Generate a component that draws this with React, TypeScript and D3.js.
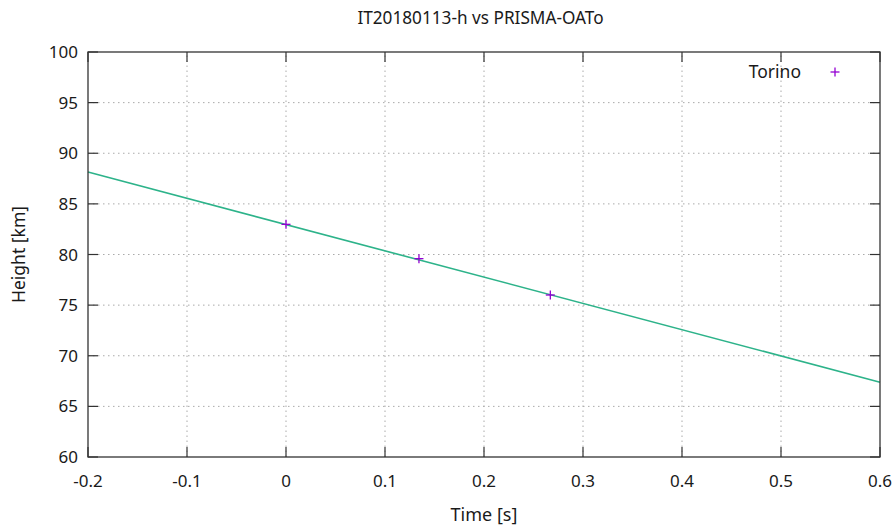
import React from "react";
import * as d3 from "d3";

// Observed meteor heights from the Torino station
const times = [0, 0.1343, 0.267];
const heights = [82.98, 79.59, 76.0];

// Linear fit across the full time range
const fitTimes = [-0.2, 0.6];
const fitHeights = [88.15, 67.38];

const xTicks = [-0.2, -0.1, 0, 0.1, 0.2, 0.3, 0.4, 0.5, 0.6];
const yTicks = [60, 65, 70, 75, 80, 85, 90, 95, 100];

const W = 896;
const H = 527;
const M = { left: 88, right: 16, top: 52, bottom: 70 };
const FONT = "'Noto Sans', 'DejaVu Sans', sans-serif";
const TEXT = "#1a1a1a";

export default function App() {
  const x = d3.scaleLinear().domain([-0.2, 0.6]).range([M.left, W - M.right]);
  const y = d3.scaleLinear().domain([60, 100]).range([H - M.bottom, M.top]);
  const [x0, x1] = x.range();
  const [y0, y1] = y.range();
  const tick = 10;
  const line = d3
    .line<number>()
    .x((_, i) => x(fitTimes[i]))
    .y((d) => y(d));
  const fmtX = (v: number) => (v === 0 ? "0" : v.toFixed(1));

  return (
    <svg
      width={W}
      height={H}
      style={{ position: "absolute", left: 0, top: 0, background: "#fff" }}
      fontFamily={FONT}
    >
      {/* grid */}
      <g stroke="#aaa" strokeWidth={1} strokeDasharray="1.5,3.5">
        {xTicks.slice(1, -1).map((t) => (
          <line key={"gx" + t} x1={x(t)} x2={x(t)} y1={y0} y2={y1} />
        ))}
        {yTicks.slice(1, -1).map((t) => (
          <line key={"gy" + t} x1={x0} x2={x1} y1={y(t)} y2={y(t)} />
        ))}
      </g>
      {/* ticks on all sides */}
      <g stroke="#333" strokeWidth={1.2}>
        {xTicks.map((t) => (
          <g key={"tx" + t}>
            <line x1={x(t)} x2={x(t)} y1={y0} y2={y0 - tick} />
            <line x1={x(t)} x2={x(t)} y1={y1} y2={y1 + tick} />
          </g>
        ))}
        {yTicks.map((t) => (
          <g key={"ty" + t}>
            <line x1={x0} x2={x0 + tick} y1={y(t)} y2={y(t)} />
            <line x1={x1} x2={x1 - tick} y1={y(t)} y2={y(t)} />
          </g>
        ))}
      </g>
      {/* tick labels */}
      <g fontSize={17} fill={TEXT}>
        {xTicks.map((t) => (
          <text key={"lx" + t} x={x(t)} y={487} textAnchor="middle">
            {fmtX(t)}
          </text>
        ))}
        {yTicks.map((t) => (
          <text key={"ly" + t} x={78} y={y(t) + 6} textAnchor="end">
            {t}
          </text>
        ))}
      </g>
      {/* fit line */}
      <path d={line(fitHeights) || ""} fill="none" stroke="#2db38a" strokeWidth={1.6} />
      {/* data markers */}
      <g stroke="#9400d3" strokeWidth={1.3}>
        {times.map((t, i) => (
          <g key={"p" + i}>
            <line x1={x(t) - 4.5} x2={x(t) + 4.5} y1={y(heights[i])} y2={y(heights[i])} />
            <line x1={x(t)} x2={x(t)} y1={y(heights[i]) - 4.5} y2={y(heights[i]) + 4.5} />
          </g>
        ))}
      </g>
      {/* frame */}
      <rect x={x0} y={y1} width={x1 - x0} height={y0 - y1} fill="none" stroke="#333" strokeWidth={1.3} />
      {/* legend */}
      <text x={801} y={78} textAnchor="end" fontSize={17.5} fill={TEXT}>
        Torino
      </text>
      <g stroke="#9400d3" strokeWidth={1.3}>
        <line x1={830.5} x2={839.5} y1={72} y2={72} />
        <line x1={835} x2={835} y1={67.5} y2={76.5} />
      </g>
      {/* titles */}
      <text x={480.5} y={24} textAnchor="middle" fontSize={17.2} fill={TEXT}>
        IT20180113-h vs PRISMA-OATo
      </text>
      <text x={484} y={521} textAnchor="middle" fontSize={18} fill={TEXT}>
        Time [s]
      </text>
      <text
        transform={`translate(25,${(y0 + y1) / 2}) rotate(-90)`}
        textAnchor="middle"
        fontSize={17.5}
        fill={TEXT}
      >
        Height [km]
      </text>
    </svg>
  );
}
